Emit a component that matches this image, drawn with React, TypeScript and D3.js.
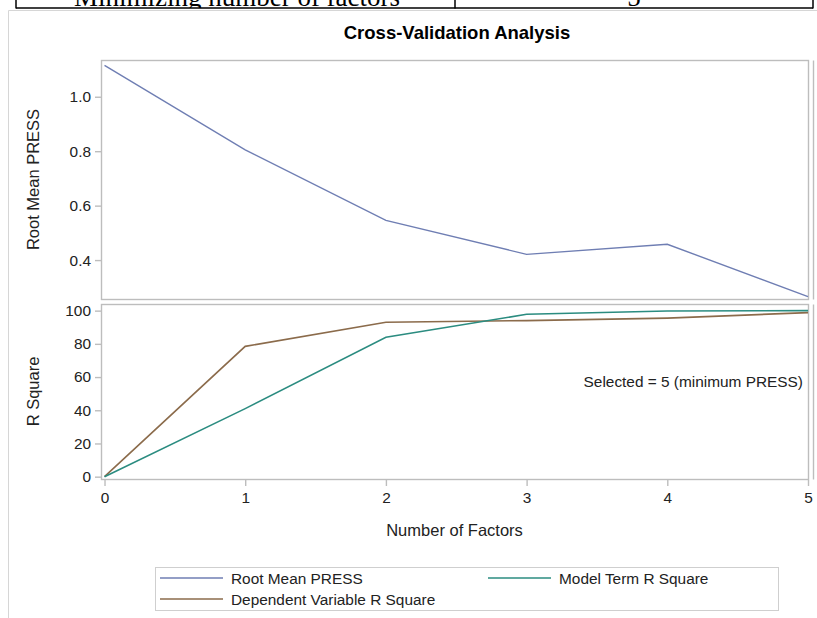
import React, { useEffect, useRef } from "react";
import * as d3 from "d3";

// Data
const factors = [0, 1, 2, 3, 4, 5];
const rootMeanPress = [1.115, 0.805, 0.546, 0.421, 0.458, 0.266];
const modelTermRSquare = [0, 41, 84, 97.8, 99.8, 100];
const dependentRSquare = [0, 78.5, 93, 94, 95.5, 98.8];

const topTicks = [0.4, 0.6, 0.8, 1.0];
const bottomTicks = [0, 20, 40, 60, 80, 100];

const tableLabels = ["Minimizing number of factors", "5"];

const legendItems = [
  { label: "Root Mean PRESS", color: "#6f7eb3" },
  { label: "Model Term R Square", color: "#2b8c80" },
  { label: "Dependent Variable R Square", color: "#8b6b4b" },
];

const width = 817;
const height = 618;
const font = "'Liberation Sans', Arial, sans-serif";

const App: React.FC = () => {
  const ref = useRef<SVGSVGElement>(null);

  useEffect(() => {
    const svg = d3.select(ref.current);
    svg.selectAll("*").remove();

    const left = 101;
    const right = 808;
    const top1 = 60;
    const bot1 = 299;
    const top2 = 304;
    const bot2 = 479;
    const frameColor = "#bdbdbd";

    // table fragment at the top (cut off by the page edge, as in the source)
    svg.append("text").attr("x", 237).attr("y", 5.5).attr("text-anchor", "middle")
      .attr("font-family", "'Liberation Serif', 'Times New Roman', serif").attr("font-size", 27)
      .text(tableLabels[0]);
    svg.append("text").attr("x", 634).attr("y", 5.5).attr("text-anchor", "middle")
      .attr("font-family", "'Liberation Serif', 'Times New Roman', serif").attr("font-size", 27)
      .text(tableLabels[1]);
    svg.append("rect").attr("x", 16).attr("y", 8).attr("width", 798).attr("height", 4).attr("fill", "#fff");
    svg.append("line").attr("x1", 16).attr("x2", 813).attr("y1", 8).attr("y2", 8)
      .attr("stroke", "#000").attr("stroke-width", 1.5);
    [16, 455, 813].forEach((xx) => {
      svg.append("line").attr("x1", xx).attr("x2", xx).attr("y1", 0).attr("y2", 8.5)
        .attr("stroke", "#000").attr("stroke-width", 1.5);
    });

    // image frame
    svg.append("path").attr("d", `M8.5,${height} V10.5 H${width}`)
      .attr("fill", "none").attr("stroke", "#d6d6d6").attr("stroke-width", 1);

    svg.append("text").attr("x", 457).attr("y", 39).attr("text-anchor", "middle")
      .attr("font-family", font).attr("font-size", 18.5).attr("font-weight", "bold")
      .attr("fill", "#000").text("Cross-Validation Analysis");

    const x = d3.scaleLinear().domain([-0.025, 5]).range([left, right]);
    const yTop = d3.scaleLinear().domain([0.257, 1.135]).range([bot1, top1]);
    const yBot = d3.scaleLinear().domain([-1.4, 104]).range([bot2, top2]);

    // panel frames
    [[top1, bot1], [top2, bot2]].forEach(([t, b]) => {
      svg.append("rect").attr("x", left + 0.5).attr("y", t + 0.5)
        .attr("width", right - left).attr("height", b - t)
        .attr("fill", "none").attr("stroke", frameColor).attr("stroke-width", 1.4);
      svg.append("line").attr("x1", 813.5).attr("x2", 813.5).attr("y1", t + 0.5).attr("y2", b + 0.5)
        .attr("stroke", frameColor).attr("stroke-width", 1.4);
    });

    const styleAxis = (g: d3.Selection<SVGGElement, unknown, null, undefined>) => {
      g.select(".domain").remove();
      g.selectAll(".tick line").attr("stroke", frameColor).attr("stroke-width", 1.4);
      g.selectAll(".tick text").attr("fill", "#222").attr("font-family", font).attr("font-size", 15.4);
    };

    svg.append("g").attr("transform", `translate(${left},0)`)
      .call(d3.axisLeft(yTop).tickValues(topTicks).tickSize(6).tickPadding(4).tickFormat(d3.format(".1f")))
      .call(styleAxis);
    svg.append("g").attr("transform", `translate(${left},0)`)
      .call(d3.axisLeft(yBot).tickValues(bottomTicks).tickSize(6).tickPadding(4).tickFormat(d3.format("d")))
      .call(styleAxis);
    svg.append("g").attr("transform", `translate(0,${bot2 + 1})`)
      .call(d3.axisBottom(x).tickValues(factors).tickSize(6).tickPadding(6).tickFormat(d3.format("d")))
      .call(styleAxis);

    // axis labels
    svg.append("text").attr("transform", `translate(39,${(top1 + bot1) / 2}) rotate(-90)`)
      .attr("text-anchor", "middle").attr("font-family", font).attr("font-size", 16.5)
      .attr("fill", "#222").text("Root Mean PRESS");
    svg.append("text").attr("transform", `translate(39,${(top2 + bot2) / 2}) rotate(-90)`)
      .attr("text-anchor", "middle").attr("font-family", font).attr("font-size", 16.5)
      .attr("fill", "#222").text("R Square");
    svg.append("text").attr("x", (left + right) / 2).attr("y", 536).attr("text-anchor", "middle")
      .attr("font-family", font).attr("font-size", 16.5).attr("fill", "#222").text("Number of Factors");

    // series
    const lineTop = d3.line<number>().x((_, i) => x(factors[i])).y((d) => yTop(d));
    const lineBot = d3.line<number>().x((_, i) => x(factors[i])).y((d) => yBot(d));

    svg.append("path").datum(rootMeanPress).attr("d", lineTop)
      .attr("fill", "none").attr("stroke", legendItems[0].color).attr("stroke-width", 1.4);
    svg.append("path").datum(dependentRSquare).attr("d", lineBot)
      .attr("fill", "none").attr("stroke", legendItems[2].color).attr("stroke-width", 1.6);
    svg.append("path").datum(modelTermRSquare).attr("d", lineBot)
      .attr("fill", "none").attr("stroke", legendItems[1].color).attr("stroke-width", 1.6);

    svg.append("text").attr("x", 803).attr("y", 387).attr("text-anchor", "end")
      .attr("font-family", font).attr("font-size", 15.4).attr("fill", "#222")
      .text("Selected = 5 (minimum PRESS)");

    // legend
    svg.append("rect").attr("x", 155.5).attr("y", 567.5).attr("width", 623).attr("height", 43)
      .attr("fill", "none").attr("stroke", "#cfcfcf").attr("stroke-width", 1);
    const legendPos = [
      { lx: 160, ly: 578 },
      { lx: 488, ly: 578 },
      { lx: 160, ly: 599 },
    ];
    legendItems.forEach((item, i) => {
      const p = legendPos[i];
      svg.append("line").attr("x1", p.lx).attr("x2", p.lx + 63).attr("y1", p.ly).attr("y2", p.ly)
        .attr("stroke", item.color).attr("stroke-width", 1.4);
      svg.append("text").attr("x", p.lx + 71).attr("y", p.ly + 5.5)
        .attr("font-family", font).attr("font-size", 15.4).attr("fill", "#222").text(item.label);
    });
  }, []);

  return (
    <svg
      ref={ref}
      width={width}
      height={height}
      style={{ position: "absolute", left: 0, top: 0, background: "#fff" }}
    />
  );
};

export default App;
